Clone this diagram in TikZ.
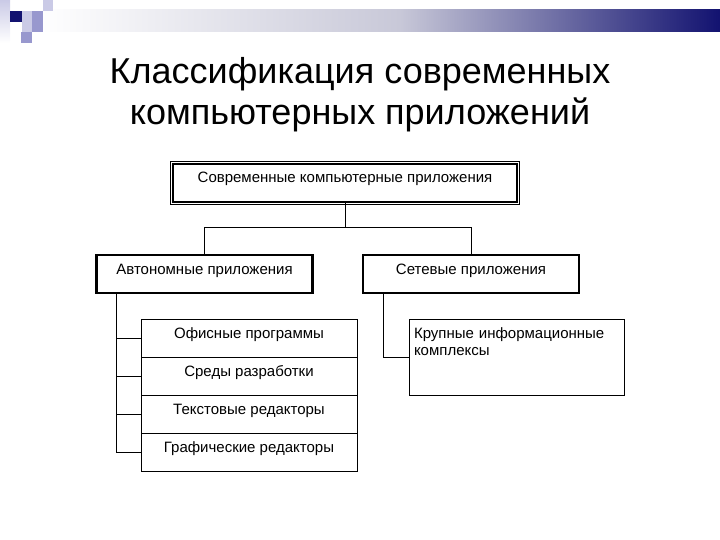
\documentclass[tikz,border=0pt]{standalone}
\usepackage{fontspec}
\setmainfont{Liberation Sans}
\usepackage{tikz}
\usetikzlibrary{positioning,calc}
\definecolor{navy}{RGB}{18,18,112}
\definecolor{lilac}{RGB}{202,202,230}
\definecolor{mauve}{RGB}{152,152,206}
\definecolor{haze}{RGB}{200,200,216}

\begin{document}
\begin{tikzpicture}[x=1pt, y=-1pt,
  node distance=0pt,
  box/.style={draw, line width=#1, outer sep=0pt, minimum width=216pt, minimum height=38pt, inner sep=5pt, text height=14pt, text depth=14pt, font=\fontsize{15}{17}\selectfont},
  box/.default=0.8pt,
  conn/.style={line width=0.8pt}]
\useasboundingbox (0,0) rectangle (720,540);
% banner and logo
\shade[left color=white, right color=haze] (40,10) rectangle (400,32);
\shade[left color=haze, right color=navy] (399.5,10) rectangle (720,32);
\shade[top color=lilac, bottom color=white] (0,0) rectangle (10,43);
\fill[navy] (10,11) rectangle (22,22);
\fill[lilac] (22,11) rectangle (32,22);
\fill[mauve] (32,11) rectangle (43,22);
\fill[lilac] (43,0) rectangle (53,11);
\fill[lilac] (22,22) rectangle (32,32);
\fill[mauve] (32,22) rectangle (43,32);
\fill[mauve] (21,32) rectangle (32,43);
\node[font=\fontsize{36}{41}\selectfont, align=center] (title) at (360,95) {Классификация современных\\компьютерных приложений};
% tree
\node[box=1.6pt, minimum width=344pt] (root) at (345,183) {Современные компьютерные приложения};
\draw[line width=0.6pt] ($(root.north west)+(-2.5,-2.5)$) rectangle ($(root.south east)+(2.5,2.5)$);
\node[box=2.2pt] (auto) at (204.5,274) {Автономные приложения};
\node[box=2.2pt] (net) at (471,274) {Сетевые приложения};
\node[box] (office) at (249,338) {Офисные программы};
\node[box, below=of office] (ide) {Среды разработки};
\node[box, below=of ide] (texted) {Текстовые редакторы};
\node[box, below=of texted] (graphed) {Графические редакторы};
\node[box, minimum width=215pt, minimum height=76pt, text width=205pt, align=left, text depth=52pt] (info) at (516.5,357) {Крупные информационные\\комплексы};
\draw[conn] (root.south) -- ++(0,25) coordinate (fork);
\draw[conn] (fork) -| (auto.north);
\draw[conn] (fork) -| (net.north);
\draw[conn] ($(auto.south west)+(20,0)$) coordinate (trunk) |- (graphed.west);
\foreach \r in {office,ide,texted}
  \draw[conn] (trunk |- \r.west) -- (\r.west);
\draw[conn] ($(net.south west)+(20,0)$) |- (info.west);
\end{tikzpicture}
\end{document}
